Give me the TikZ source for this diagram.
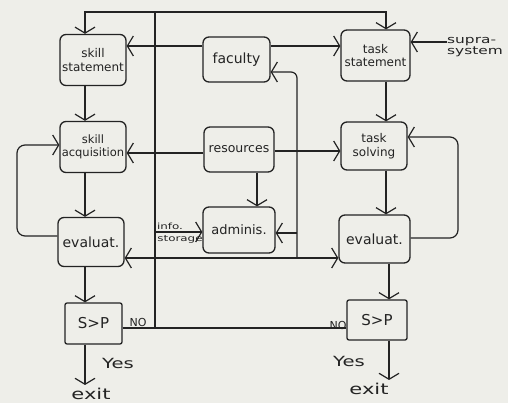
\documentclass[tikz,border=0pt]{standalone}
\usepackage{fontspec}
\setmainfont{DejaVu Sans}
\newfontfamily\widefont[FakeStretch=1.4]{DejaVu Sans}
\usetikzlibrary{arrows.meta,calc}
\definecolor{paper}{RGB}{238,238,233}
\definecolor{ink}{RGB}{35,35,35}
\begin{document}
\begin{tikzpicture}[x=1pt,y=-1pt,
  box/.style={draw=ink,line width=1.3pt,rounded corners=6pt,inner sep=1pt,align=center,text=ink,font=\fontsize{12}{13.5}\selectfont},
  arr/.style={draw=ink,line width=1.2pt,-{Straight Barb[length=6pt,width=20pt]}},
  arrboth/.style={draw=ink,line width=1.2pt,{Straight Barb[length=6pt,width=20pt]}-{Straight Barb[length=6pt,width=20pt]}},
  ln/.style={draw=ink,line width=1.2pt},
  lbl/.style={text=ink,inner sep=0pt}]
\fill[paper] (0,0) rectangle (508,403);
\useasboundingbox (0,0) rectangle (508,403);

% left column
\node[box,minimum width=66pt,minimum height=51pt] (ss) at (93,60) {skill\\statement};
\node[box,minimum width=66pt,minimum height=51pt,font=\fontsize{11.5}{13.5}\selectfont] (sa) at (93,147) {skill\\acquisition};
\node[box,minimum width=66pt,minimum height=49pt,font=\fontsize{14}{15}\selectfont] (el) at (91,242) {evaluat.};
\node[box,minimum width=57pt,minimum height=41pt,rounded corners=2pt,font=\fontsize{15}{16}\selectfont] (spl) at (93.5,323.5) {S>P};
\node[lbl,font=\widefont\fontsize{15}{16}\selectfont] (exl) at (91,394) {exit};

% middle column
\node[box,minimum width=67pt,minimum height=45pt,font=\fontsize{14}{15}\selectfont] (fac) at (236.5,59.5) {faculty};
\node[box,minimum width=70pt,minimum height=45pt,font=\fontsize{12.5}{14}\selectfont] (res) at (239,149.5) {resources};
\node[box,minimum width=72pt,minimum height=46pt,font=\fontsize{13}{14}\selectfont] (adm) at (239,230) {adminis.};

% right column
\node[box,minimum width=69pt,minimum height=51pt] (ts) at (375.5,55.5) {task\\statement};
\node[box,minimum width=66pt,minimum height=48pt] (tso) at (374,146) {task\\solving};
\node[box,minimum width=71pt,minimum height=48pt,font=\fontsize{14}{15}\selectfont] (er) at (374.5,239) {evaluat.};
\node[box,minimum width=60pt,minimum height=40pt,rounded corners=2pt,font=\fontsize{15}{16}\selectfont] (spr) at (377,320) {S>P};
\node[lbl,font=\widefont\fontsize{15}{16}\selectfont] (exr) at (369,389) {exit};

% labels
\node[lbl,anchor=west,align=left,font=\widefont\fontsize{11}{10.5}\selectfont] (sup) at (447,47) {supra-\\system};
\node[lbl,font=\widefont\fontsize{8.5}{9}\selectfont] (inf) at (170,226) {info.};
\node[lbl,font=\widefont\fontsize{8.5}{9}\selectfont] (sto) at (180,239) {storage};
\node[lbl,font=\widefont\fontsize{14}{15}\selectfont] (yl) at (118,363) {Yes};
\node[lbl,font=\widefont\fontsize{14}{15}\selectfont] (yr) at (349,361) {Yes};
\node[lbl,font=\fontsize{11}{12}\selectfont] (nol) at (138,322) {NO};
\node[lbl,font=\fontsize{11}{12}\selectfont] (nor) at (338,325) {NO};

% helper coordinates
\coordinate (cl) at (85,0);
\coordinate (cr) at (386,0);
\coordinate (cr2) at (389,0);
\coordinate (nl) at (155,328);
\coordinate (nt) at (155,12);
\coordinate (yf) at (0,46);
\coordinate (ys) at (0,42);
\coordinate (yr1) at (0,153);
\coordinate (yr2) at (0,151);
\coordinate (xa) at (257,0);
\coordinate (vi) at (155,232);
\coordinate (vb) at (297,258);
\coordinate (va) at (297,233);
\coordinate (vt) at (297,72);
\coordinate (ll) at (17,236);
\coordinate (lu) at (17,145);
\coordinate (rl) at (458,238);
\coordinate (ru) at (458,137);

% NO loop back to statements
\draw[ln] (spl.east |- nl) -- (spr.west |- nl);
\draw[arr] (nl) -- (nt) -| (ss.north -| cl);
\draw[arr] (nt) -| (ts.north -| cr);

% faculty
\draw[arr] (fac.west |- yf) -- (ss.east |- yf);
\draw[arr] (fac.east |- yf) -- (ts.west |- yf);
\draw[arr] (sup.west |- ys) -- (ts.east |- ys);

% resources
\draw[arr] (res.west |- yr1) -- (sa.east |- yr1);
\draw[arr] (res.east |- yr2) -- (tso.west |- yr2);
\draw[arr] (res.south -| xa) -- (adm.north -| xa);

% info storage
\draw[arr] (vi) -- (adm.west |- vi);

% evaluation bus
\draw[arrboth] (el.east |- vb) -- (er.west |- vb);
\draw[arr,rounded corners=6pt] (vb) -- (vt) -- (fac.east |- vt);
\draw[arr] (va) -- (adm.east |- va);

% feedback loops
\draw[arr,rounded corners=8pt] (el.west |- ll) -- (ll) -- (lu) -- (sa.west |- lu);
\draw[arr,rounded corners=8pt] (er.east |- rl) -- (rl) -- (ru) -- (tso.east |- ru);

% columns
\draw[arr] (ss.south -| cl) -- (sa.north -| cl);
\draw[arr] (sa.south -| cl) -- (el.north -| cl);
\draw[arr] (el.south -| cl) -- (spl.north -| cl);
\draw[arr,shorten >=3pt] (spl.south -| cl) -- (exl.north -| cl);
\draw[arr] (ts.south -| cr) -- (tso.north -| cr);
\draw[arr] (tso.south -| cr) -- (er.north -| cr);
\draw[arr] (er.south -| cr2) -- (spr.north -| cr2);
\draw[arr,shorten >=3pt] (spr.south -| cr2) -- (exr.north -| cr2);
\end{tikzpicture}
\end{document}
